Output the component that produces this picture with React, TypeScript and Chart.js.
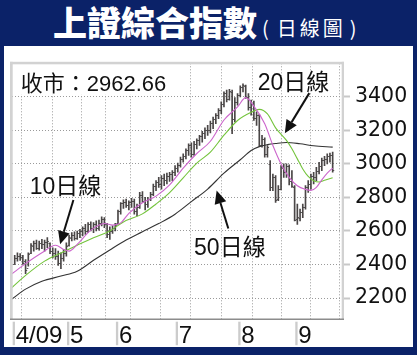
import React, { useEffect, useRef } from 'react';
import { Chart, registerables } from 'chart.js';

Chart.register(...registerables);

// ---------------- data ----------------
const monthLabels = ['4/09', '5', '6', '7', '8', '9'];
// trading-day index where each month block starts (boundary between bars)
const monthBoundaries = [-0.5, 19.5, 37.5, 59.5, 82.5, 103.5];
// extra (mid-month) vertical grid lines, in trading-day index
const midMonthGrid = [8.2, 29.5, 47.9, 70, 92.5, 114.2];
const yTicks = [2200, 2400, 2600, 2800, 3000, 3200, 3400];
const lastClose = '2962.66';

const highs = [
  2455, 2470, 2465, 2455, 2430, 2470, 2525, 2540, 2545, 2540, 2550, 2545, 2560, 2530, 2500, 2495, 2480, 2470, 2490, 2530,
  2575, 2590, 2595, 2600, 2610, 2625, 2640, 2650, 2655, 2650, 2660, 2665, 2685, 2680, 2645, 2625, 2630, 2645,
  2725, 2770, 2785, 2790, 2780, 2795, 2790, 2760, 2830, 2835, 2800, 2800, 2830, 2880, 2900, 2920, 2930, 2940, 2945, 2950, 2960, 2990,
  3005, 3040, 3060, 3090, 3120, 3125, 3135, 3150, 3170, 3195, 3215, 3230, 3255, 3280, 3300, 3330, 3370, 3430, 3440, 3445, 3440, 3395, 3420,
  3465, 3478, 3470, 3420, 3380, 3375, 3310, 3295, 3170, 3155, 3110, 3020, 2940, 2930, 2870, 2990, 3000, 3000, 2995, 2960, 2870,
  2760, 2730, 2760, 2870, 2900, 2940, 2950, 2980, 3010, 3035, 3045, 3060, 3065, 3070,
];
const lows = [
  2400, 2420, 2425, 2400, 2345, 2390, 2465, 2480, 2490, 2485, 2495, 2480, 2500, 2465, 2440, 2430, 2395, 2375, 2420, 2450,
  2510, 2540, 2545, 2550, 2560, 2570, 2580, 2590, 2600, 2590, 2600, 2605, 2630, 2620, 2560, 2550, 2585, 2600,
  2640, 2700, 2735, 2740, 2725, 2740, 2700, 2690, 2735, 2770, 2725, 2740, 2780, 2810, 2840, 2860, 2850, 2870, 2880, 2895, 2900, 2930,
  2950, 2980, 3010, 3030, 3050, 3040, 3050, 3090, 3110, 3130, 3150, 3170, 3185, 3210, 3240, 3270, 3300, 3340, 3370, 3380, 3180, 3250, 3350,
  3400, 3430, 3390, 3320, 3290, 3260, 3230, 3105, 3100, 3040, 3040, 2840, 2840, 2770, 2780, 2845, 2920, 2920, 2875, 2860, 2660,
  2639, 2660, 2680, 2730, 2830, 2850, 2880, 2900, 2940, 2960, 2990, 3000, 3010, 2950,
];
const opens = [
  2405, 2440, 2450, 2445, 2420, 2380, 2470, 2510, 2530, 2500, 2530, 2520, 2535, 2530, 2480, 2470, 2450, 2410, 2440, 2470,
  2515, 2560, 2575, 2560, 2590, 2600, 2615, 2600, 2640, 2620, 2640, 2615, 2650, 2670, 2640, 2580, 2600, 2620,
  2645, 2720, 2765, 2770, 2755, 2770, 2780, 2720, 2745, 2815, 2780, 2760, 2790, 2820, 2870, 2890, 2880, 2915, 2905, 2930, 2940, 2950,
  2975, 2995, 3030, 3050, 3080, 3110, 3060, 3120, 3140, 3165, 3185, 3205, 3200, 3245, 3270, 3290, 3320, 3360, 3420, 3390, 3430, 3265, 3370,
  3410, 3460, 3465, 3400, 3340, 3355, 3275, 3290, 3115, 3150, 3060, 3000, 2860, 2920, 2790, 2850, 2975, 2950, 2985, 2900, 2860,
  2670, 2680, 2715, 2740, 2860, 2880, 2930, 2920, 2960, 2990, 3025, 3030, 3050, 3055,
];
const closes = [
  2440, 2450, 2445, 2410, 2370, 2460, 2515, 2530, 2500, 2530, 2520, 2535, 2540, 2480, 2470, 2450, 2410, 2440, 2470, 2510,
  2565, 2575, 2560, 2590, 2600, 2615, 2600, 2640, 2620, 2640, 2615, 2650, 2670, 2640, 2580, 2600, 2620, 2635,
  2720, 2765, 2770, 2755, 2770, 2780, 2720, 2745, 2815, 2780, 2760, 2790, 2820, 2870, 2890, 2880, 2915, 2905, 2930, 2940, 2950, 2975,
  2995, 3030, 3050, 3080, 3110, 3060, 3120, 3140, 3165, 3185, 3205, 3200, 3245, 3270, 3290, 3320, 3360, 3420, 3390, 3435, 3265, 3370, 3410,
  3460, 3470, 3400, 3340, 3360, 3275, 3290, 3115, 3150, 3060, 3100, 2860, 2920, 2785, 2850, 2980, 2950, 2985, 2900, 2870, 2668,
  2683, 2715, 2740, 2860, 2880, 2930, 2920, 2960, 2990, 3025, 3030, 3050, 3055, 2962.66,
];

const ma10Days = [-1, 4, 10, 15, 18, 20, 23, 28, 33, 36, 39, 42, 47, 52, 57, 62, 67, 72, 77, 82, 85, 88, 92, 95, 98, 101, 104, 107, 109, 111, 113, 115, 117];
const ma10Values = [2345, 2405, 2470, 2515, 2490, 2480, 2520, 2605, 2645, 2635, 2648, 2705, 2768, 2808, 2875, 2975, 3062, 3135, 3262, 3340, 3395, 3345, 3240, 3110, 3000, 2920, 2870, 2848, 2842, 2860, 2905, 2945, 2975];
const ma20Days = [-1, 4, 11, 17, 23, 29, 35, 40, 47, 52, 57, 62, 67, 72, 77, 82, 87, 90, 93, 96, 100, 102, 104, 106, 108, 110, 112, 114, 117];
const ma20Values = [2263, 2335, 2420, 2468, 2515, 2560, 2600, 2654, 2702, 2761, 2829, 2917, 3005, 3070, 3171, 3259, 3308, 3325, 3298, 3215, 3140, 3090, 3030, 2970, 2925, 2900, 2892, 2902, 2917];
const ma50Days = [-1, 4, 10, 17, 23, 29, 35, 41, 47, 53, 59, 65, 71, 77, 83, 87, 90, 93, 96, 100, 105, 110, 117];
const ma50Values = [2194, 2253, 2300, 2331, 2360, 2425, 2487, 2546, 2595, 2644, 2700, 2775, 2850, 2945, 3025, 3080, 3103, 3115, 3122, 3128, 3120, 3108, 3100];

// annotations (anchored in data space: trading-day index / index value)
const annotationTexts = [
  { text: '收市：' + lastClose, day: 2.2, value: 3437, size: 22, box: true },
  { text: '10日線', day: 5.5, value: 2821, size: 23, box: false },
  { text: '20日線', day: 89.4, value: 3438, size: 23, box: false },
  { text: '50日線', day: 66.0, value: 2456, size: 23, box: false },
];
const arrows = [
  { fromDay: 21.6, fromValue: 2785, toDay: 16.7, toValue: 2521 },
  { fromDay: 108.4, fromValue: 3422, toDay: 99.4, toValue: 3183 },
  { fromDay: 78.6, fromValue: 2615, toDay: 74.3, toValue: 2841 },
];

// ---------------- styles ----------------
const NAVY = '#0b2268';
const BAR_COLOR = '#4a4646';
const LATIN = "'Liberation Sans', Arial, 'Noto Sans CJK TC', sans-serif";
const WIDE = "'DejaVu Sans', 'Liberation Sans', sans-serif";
const CJK = "'Noto Sans CJK TC', 'Noto Sans CJK SC', sans-serif";

const ohlcTicksPlugin = {
  id: 'ohlcTicks',
  afterDatasetDraw(chart: any, args: any) {
    if (chart.data.datasets[args.index].label !== 'OHLC') return;
    const { ctx } = chart;
    const x = chart.scales.x;
    const y = chart.scales.y;
    ctx.save();
    ctx.strokeStyle = BAR_COLOR;
    ctx.lineWidth = 0.9;
    ctx.beginPath();
    for (let i = 0; i < closes.length; i++) {
      const px = x.getPixelForValue(i);
      const po = Math.round(y.getPixelForValue(opens[i])) + 0.5;
      const pc = Math.round(y.getPixelForValue(closes[i])) + 0.5;
      ctx.moveTo(px - 1.6, po);
      ctx.lineTo(px, po);
      ctx.moveTo(px, pc);
      ctx.lineTo(px + 1.6, pc);
    }
    ctx.stroke();
    ctx.restore();
  },
};

const framePlugin = {
  id: 'frame',
  afterDraw(chart: any) {
    const { ctx, chartArea } = chart;
    const { left, right, top, bottom } = chartArea;
    const x = chart.scales.x;
    ctx.save();
    // plot frame
    ctx.fillStyle = '#d2d2d2';
    ctx.fillRect(left - 2, top - 1.5, 2.7, bottom - top + 2);
    ctx.fillRect(left - 2, top - 1.5, right - left + 3, 2.5);
    ctx.fillRect(right - 1.3, top - 1.5, 2.3, bottom - top + 2);
    ctx.fillStyle = '#8c8c8c';
    ctx.fillRect(left - 2, bottom - 0.5, right - left + 3, 1.5);
    // month band
    ctx.font = `24px ${LATIN}`;
    ctx.textAlign = 'left';
    ctx.textBaseline = 'alphabetic';
    monthBoundaries.forEach((b, k) => {
      const px = x.getPixelForValue(b);
      ctx.fillStyle = '#cccccc';
      ctx.fillRect(px - 0.7, bottom + 2.7, 2.3, 23.5);
      ctx.fillStyle = '#111111';
      ctx.fillText(monthLabels[k], px + 2.3, bottom + 24.3);
    });
    ctx.restore();
  },
};

const annotationPlugin = {
  id: 'notes',
  afterDatasetsDraw(chart: any) {
    const { ctx, chartArea } = chart;
    const x = chart.scales.x;
    const y = chart.scales.y;
    ctx.save();
    annotationTexts.forEach((a) => {
      const px = x.getPixelForValue(a.day);
      const py = y.getPixelForValue(a.value);
      ctx.font = `${a.size}px ${LATIN}`;
      if (a.box) {
        const w = ctx.measureText(a.text).width;
        ctx.fillStyle = '#ffffff';
        ctx.fillRect(chartArea.left, chartArea.top, px + w + 5 - chartArea.left, py + 4 - chartArea.top);
      }
      ctx.fillStyle = '#111111';
      ctx.textAlign = 'left';
      ctx.textBaseline = 'alphabetic';
      ctx.fillText(a.text, px, py);
    });
    ctx.strokeStyle = '#111111';
    ctx.fillStyle = '#111111';
    ctx.lineWidth = 2;
    arrows.forEach((a) => {
      const x1 = x.getPixelForValue(a.fromDay);
      const y1 = y.getPixelForValue(a.fromValue);
      const x2 = x.getPixelForValue(a.toDay);
      const y2 = y.getPixelForValue(a.toValue);
      const ang = Math.atan2(y2 - y1, x2 - x1);
      const headLen = 13;
      const half = 6;
      const bx = x2 - headLen * Math.cos(ang);
      const by = y2 - headLen * Math.sin(ang);
      ctx.beginPath();
      ctx.moveTo(x1, y1);
      ctx.lineTo(bx, by);
      ctx.stroke();
      ctx.beginPath();
      ctx.moveTo(x2, y2);
      ctx.lineTo(bx + half * Math.sin(ang), by - half * Math.cos(ang));
      ctx.lineTo(bx - half * Math.sin(ang), by + half * Math.cos(ang));
      ctx.closePath();
      ctx.fill();
    });
    ctx.restore();
  },
};

export default function App() {
  const ref = useRef<HTMLCanvasElement>(null);

  useEffect(() => {
    document.body.style.margin = '0';
    const canvas = ref.current;
    if (!canvas) return;
    const barData = highs.map((h, i) => ({ x: i, y: [lows[i], h] }));
    const toPts = (days: number[], vals: number[]) => days.map((d, k) => ({ x: d, y: vals[k] }));

    const chart = new Chart(canvas, {
      type: 'bar',
      data: {
        datasets: [
          {
            type: 'line',
            label: '10日線',
            data: toPts(ma10Days, ma10Values),
            borderColor: '#cc66cc',
            borderWidth: 1.1,
            pointRadius: 0,
            cubicInterpolationMode: 'monotone',
          } as any,
          {
            type: 'line',
            label: '20日線',
            data: toPts(ma20Days, ma20Values),
            borderColor: '#74c43c',
            borderWidth: 1.1,
            pointRadius: 0,
            cubicInterpolationMode: 'monotone',
          } as any,
          {
            type: 'line',
            label: '50日線',
            data: toPts(ma50Days, ma50Values),
            borderColor: '#333333',
            borderWidth: 1.1,
            pointRadius: 0,
            cubicInterpolationMode: 'monotone',
          } as any,
          {
            type: 'bar',
            label: 'OHLC',
            data: barData,
            backgroundColor: BAR_COLOR,
            barThickness: 1,
            borderWidth: 0,
          } as any,
        ],
      },
      options: {
        responsive: false,
        maintainAspectRatio: false,
        animation: false,
        devicePixelRatio: 1,
        layout: { padding: { left: 8, top: 13, right: 0, bottom: 0 } },
        plugins: { legend: { display: false }, tooltip: { enabled: false }, title: { display: false } },
        scales: {
          x: {
            type: 'linear',
            min: -1,
            max: 120.8,
            offset: false,
            bounds: 'data',
            afterBuildTicks: (s: any) => {
              s.ticks = [...monthBoundaries.slice(1), ...midMonthGrid]
                .sort((a, b) => a - b)
                .map((v) => ({ value: v }));
            },
            afterFit: (s: any) => {
              s.height = 28;
            },
            ticks: { display: false },
            grid: { color: '#9a9a9a', lineWidth: 1, drawTicks: false },
            border: { display: false, dash: [1, 2] },
          },
          y: {
            type: 'linear',
            position: 'right',
            min: 2075,
            max: 3600,
            afterBuildTicks: (s: any) => {
              s.ticks = yTicks.map((v) => ({ value: v }));
            },
            afterFit: (s: any) => {
              s.width = 70;
            },
            ticks: {
              autoSkip: false,
              padding: 5,
              color: '#111111',
              font: { family: WIDE, size: 20.5 },
              callback: (v: any) => String(v),
            },
            grid: { color: '#9a9a9a', lineWidth: 1, tickLength: 7, tickWidth: 2, tickColor: '#c8c8c8' },
            border: { display: false, dash: [1, 2] },
          },
        },
      } as any,
      plugins: [ohlcTicksPlugin, annotationPlugin, framePlugin],
    });
    return () => chart.destroy();
  }, []);

  return (
    <div style={{ position: 'relative', width: 417, height: 355, background: NAVY, overflow: 'hidden' }}>
      <div
        style={{
          position: 'absolute',
          left: 53,
          top: 3,
          display: 'flex',
          alignItems: 'baseline',
          color: '#ffffff',
          whiteSpace: 'nowrap',
          fontFamily: CJK,
        }}
      >
        <span style={{ fontSize: 34, fontWeight: 900, lineHeight: '38px' }}>上證綜合指數</span>
        <span style={{ fontSize: 20, fontWeight: 400, lineHeight: '38px', marginLeft: 5 }}>(</span>
        <span style={{ fontSize: 20, fontWeight: 400, lineHeight: '38px', marginLeft: 8, letterSpacing: 3 }}>日線圖</span>
        <span style={{ fontSize: 20, fontWeight: 400, lineHeight: '38px', marginLeft: 4 }}>)</span>
      </div>
      <div style={{ position: 'absolute', left: 4, top: 46, width: 409, height: 301, background: '#ffffff' }}>
        <canvas ref={ref} width={409} height={301} style={{ display: 'block', width: 409, height: 301 }} />
      </div>
    </div>
  );
}
